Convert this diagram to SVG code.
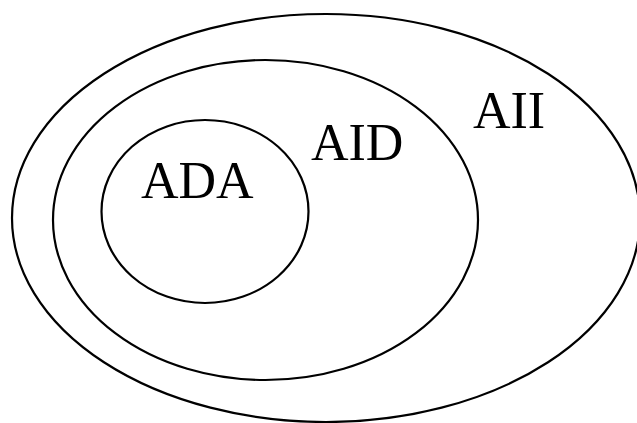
<svg xmlns="http://www.w3.org/2000/svg" width="637" height="423" viewBox="0 0 637 423">
<style>
.set{fill:none;stroke:#000;stroke-width:2.2}
.lbl{font-family:"Liberation Serif","Times New Roman",serif;font-size:52px;fill:#000}
</style>
<rect width="637" height="423" fill="#fff"/>
<g id="AII">
<ellipse class="set" cx="326" cy="218" rx="314" ry="204"/>
<text class="lbl" x="473" y="128">AII</text>
</g>
<g id="AID">
<ellipse class="set" cx="265.5" cy="220" rx="212.5" ry="160"/>
<text class="lbl" x="311" y="160">AID</text>
</g>
<g id="ADA">
<ellipse class="set" cx="205" cy="211.5" rx="103.5" ry="91.5"/>
<text class="lbl" x="141" y="198">ADA</text>
</g>
<g id="connectors"/>
</svg>
